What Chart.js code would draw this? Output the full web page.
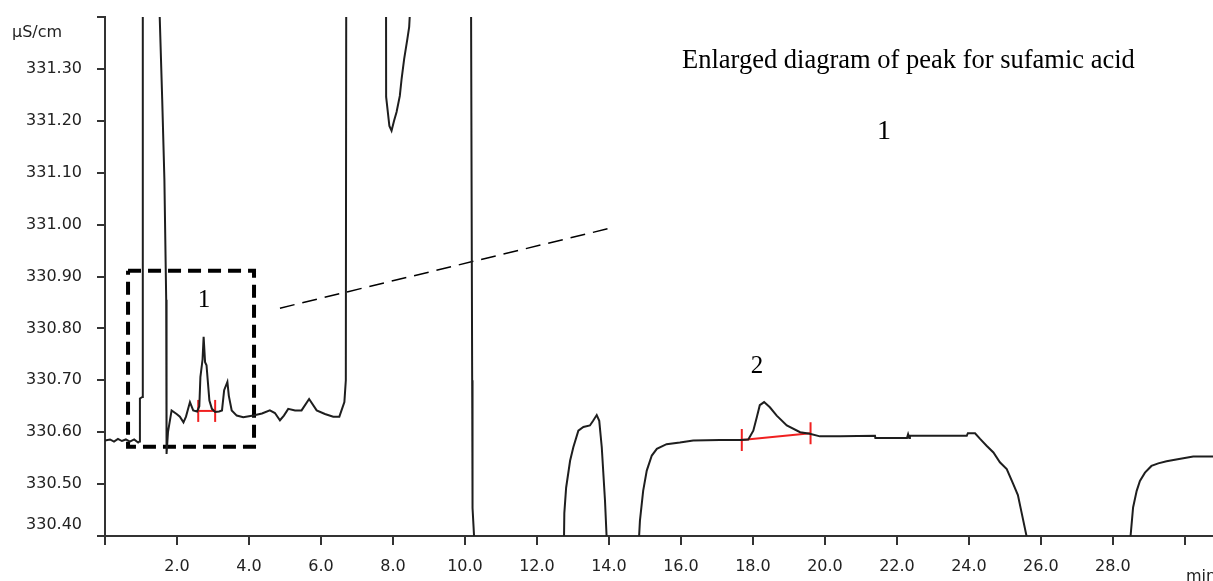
<!DOCTYPE html>
<html><head><meta charset="utf-8">
<script src="https://cdn.jsdelivr.net/npm/chart.js@4.4.1/dist/chart.umd.min.js"></script>
<style>html,body{margin:0;padding:0;background:#fff;overflow:hidden;}#wrap{position:relative;width:1213px;height:581px;}canvas{display:block;}</style>
</head><body><div id="wrap"><canvas id="c"></canvas></div>
<script>
// Chromatogram trace: retention time (min) and conductivity (µS/cm); off-scale excursions clipped by the axes
const timeMin = [
  0.00,0.14,0.25,0.36,0.47,0.58,0.69,0.81,0.92,0.96,0.97,1.04,1.05,1.50,1.52,1.59,1.65,1.70,1.71,
  1.75,1.85,1.99,2.08,2.18,2.25,2.36,2.45,2.56,2.62,2.65,2.71,2.74,2.78,2.82,2.90,2.97,3.06,3.17,
  3.25,3.31,3.40,3.44,3.52,3.66,3.84,4.12,4.36,4.58,4.72,4.86,4.97,5.09,5.28,5.46,5.67,5.88,6.11,
  6.34,6.51,6.65,6.69,6.71,7.80,7.81,7.90,7.96,8.03,8.10,8.19,8.24,8.31,8.40,8.45,8.48,8.55,10.15,
  10.17,10.20,10.21,10.26,10.27,12.74,12.75,12.76,12.81,12.92,13.01,13.15,13.29,13.47,13.56,13.66,
  13.73,13.80,13.89,13.94,13.95,14.82,14.83,14.86,14.95,15.05,15.19,15.33,15.60,15.97,16.34,17.08,
  17.64,17.87,18.01,18.11,18.19,18.31,18.47,18.66,18.94,19.31,19.58,19.86,20.42,21.39,21.40,22.28,
  22.31,22.34,22.36,23.94,23.97,24.17,24.31,24.49,24.68,24.86,25.05,25.22,25.36,25.46,25.60,25.62,
  28.48,28.49,28.56,28.66,28.75,28.89,29.07,29.26,29.49,29.72,30.23,30.78
];
const conductivity = [
  330.584,330.586,330.582,330.587,330.583,330.586,330.582,330.586,330.580,330.582,330.665,330.668,332.000,332.000,331.400,331.239,331.087,330.855,330.558,
  330.600,330.642,330.635,330.630,330.619,330.630,330.658,330.642,330.640,330.650,330.706,330.740,330.784,330.735,330.729,330.661,330.645,330.639,330.640,
  330.642,330.681,330.697,330.670,330.642,330.632,330.629,330.632,330.636,330.642,330.637,330.623,330.632,330.645,330.642,330.642,330.664,330.642,330.635,
  330.630,330.630,330.658,330.700,332.000,332.000,331.246,331.190,331.181,331.200,331.217,331.248,331.281,331.319,331.358,331.381,331.420,332.000,332.000,
  331.400,330.700,330.454,330.390,329.900,329.900,330.390,330.444,330.493,330.545,330.571,330.603,330.610,330.613,330.622,330.633,
  330.622,330.571,330.468,330.390,329.900,329.900,330.390,330.429,330.487,330.526,330.555,330.568,330.577,330.580,330.584,330.585,
  330.585,330.586,330.603,330.630,330.652,330.658,330.648,330.632,330.613,330.600,330.597,330.592,330.592,330.593,330.589,330.589,
  330.596,330.589,330.593,330.593,330.598,330.598,330.587,330.574,330.561,330.542,330.529,330.502,330.479,330.446,330.400,329.900,
  329.900,330.400,330.455,330.487,330.506,330.522,330.535,330.540,330.544,330.547,330.553,330.553
];
// Integration baselines (start/end) of the two peaks
const peak1BaseTime = [2.59, 3.06];
const peak1BaseValue = [330.641, 330.641];
const peak2BaseTime = [17.69, 19.60];
const peak2BaseValue = [330.585, 330.598];
// Enlargement box and leader line (data coordinates)
const boxTime = [0.64, 4.14, 4.14, 0.64, 0.64];
const boxValue = [330.911, 330.911, 330.572, 330.572, 330.911];
const leaderTime = [4.86, 13.97];
const leaderValue = [330.839, 330.992];
// Axis ticks
const xTickValues = [0,2,4,6,8,10,12,14,16,18,20,22,24,26,28,30];
const xTickLabels = ['','2.0','4.0','6.0','8.0','10.0','12.0','14.0','16.0','18.0','20.0','22.0','24.0','26.0','28.0',''];
const yTickValues = [330.4,330.5,330.6,330.7,330.8,330.9,331.0,331.1,331.2,331.3,331.4];
const yTickLabels = ['','330.50','330.60','330.70','330.80','330.90','331.00','331.10','331.20','331.30',''];
const yBottomLabel = '330.40';
// Text notes
const notes = [
  {text:'Enlarged diagram of peak for sufamic acid', t:16.03, v:331.302, size:26.5, align:'left'},
  {text:'1', t:21.64, v:331.165, size:28, align:'center'},
  {text:'1', t:2.75, v:330.842, size:25, align:'center'},
  {text:'2', t:18.11, v:330.714, size:25, align:'center'}
];

const pts = (xs, ys) => xs.map((t,i)=>({x:t, y:ys[i]}));
const AX = '#333', TXT = '#222', RED = '#f02020';
const tickFont = {family:'"DejaVu Sans", Verdana, sans-serif', size:16};

const annot = {
  id:'annot',
  afterDraw(chart){
    const {ctx, scales:{x, y}} = chart;
    ctx.save();
    ctx.fillStyle = '#000';
    ctx.textBaseline = 'alphabetic';
    for (const n of notes){
      ctx.font = n.size + 'px "Liberation Serif", "Times New Roman", serif';
      ctx.textAlign = n.align;
      ctx.fillText(n.text, x.getPixelForValue(n.t), y.getPixelForValue(n.v));
    }
    ctx.fillStyle = TXT;
    ctx.font = '16px "DejaVu Sans", Verdana, sans-serif';
    ctx.textAlign = 'left';
    ctx.textBaseline = 'middle';
    ctx.fillText('µS/cm', 12, 33);
    ctx.textBaseline = 'alphabetic';
    ctx.fillText('min', 1186, 581);
    ctx.textAlign = 'right';
    ctx.textBaseline = 'middle';
    ctx.fillText(yBottomLabel, chart.chartArea.left - 23, y.getPixelForValue(330.4) - 11);
    ctx.restore();
  }
};

new Chart(document.getElementById('c'), {
  type:'line',
  data:{datasets:[
    {data:pts(timeMin, conductivity), borderColor:'#1e1e1e', borderWidth:2, pointRadius:0, tension:0},
    {data:pts(boxTime, boxValue), borderColor:'#000', borderWidth:4, borderDash:[13,7], pointRadius:0, tension:0},
    {data:pts(leaderTime, leaderValue), borderColor:'#000', borderWidth:1.5, borderDash:[15,8], pointRadius:0, tension:0},
    {data:pts(peak1BaseTime, peak1BaseValue), borderColor:RED, borderWidth:2, pointStyle:'line', pointRotation:90, pointRadius:11, pointBorderColor:RED, pointBorderWidth:2, tension:0},
    {data:pts(peak2BaseTime, peak2BaseValue), borderColor:RED, borderWidth:2, pointStyle:'line', pointRotation:90, pointRadius:11, pointBorderColor:RED, pointBorderWidth:2, tension:0}
  ]},
  options:{
    responsive:true, maintainAspectRatio:false, animation:false, devicePixelRatio:1,
    layout:{autoPadding:false, padding:{top:17, right:0, bottom:0, left:0}},
    plugins:{legend:{display:false}, tooltip:{enabled:false}},
    scales:{
      x:{type:'linear', min:0, max:30.78,
        afterBuildTicks:s=>{s.ticks = xTickValues.map(v=>({value:v}));},
        afterFit:s=>{s.height = 45; s.paddingLeft = 0; s.paddingRight = 0;},
        grid:{drawOnChartArea:false, drawTicks:true, tickLength:9, color:AX, lineWidth:2},
        border:{display:true, color:AX, width:2},
        ticks:{autoSkip:false, maxRotation:0, minRotation:0, padding:12, color:TXT, font:tickFont,
          callback:(v,i)=>xTickLabels[i] ?? ''}
      },
      y:{type:'linear', min:330.4, max:331.4,
        afterBuildTicks:s=>{s.ticks = yTickValues.map(v=>({value:v}));},
        afterFit:s=>{s.width = 105; s.paddingTop = 0; s.paddingBottom = 0;},
        grid:{drawOnChartArea:false, drawTicks:true, tickLength:8, color:AX, lineWidth:2},
        border:{display:true, color:AX, width:2},
        ticks:{autoSkip:false, padding:15, color:TXT, font:tickFont,
          callback:(v,i)=>yTickLabels[i] ?? ''}
      }
    }
  },
  plugins:[annot]
});
</script></body></html>
